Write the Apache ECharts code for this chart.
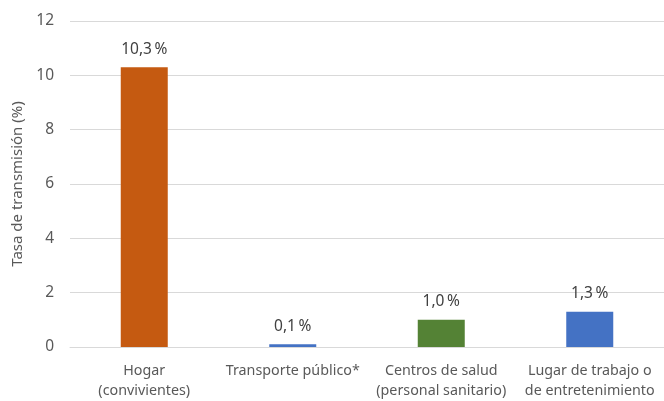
<!DOCTYPE html>
<html><head><meta charset="utf-8">
<script src="https://cdn.jsdelivr.net/npm/echarts@6/dist/echarts.min.js"></script>
<style>html,body{margin:0;padding:0;background:#fff}#c{width:664px;height:401px}</style>
</head><body><div id="c"></div>
<script>
const categories = ['Hogar\n(convivientes)', 'Transporte público*', 'Centros de salud\n(personal sanitario)', 'Lugar de trabajo o\nde entretenimiento'];
const values = [10.3, 0.1, 1.0, 1.3];
const colors = ['#C55A11', '#4472C4', '#548235', '#4472C4'];
const yTicks = [0, 2, 4, 6, 8, 10, 12];
const yTitle = 'Tasa de transmisión (%)';
const FONT = 'Noto Sans';
const chart = echarts.init(document.getElementById('c'));
chart.setOption({
  animation: false,
  grid: { left: 70, right: 0, top: 21, bottom: 54 },
  xAxis: {
    type: 'category', data: categories,
    axisLine: { lineStyle: { color: '#D9D9D9' } },
    axisTick: { show: false },
    axisLabel: { color: '#595959', fontFamily: FONT, fontSize: 14.3, lineHeight: 20, margin: 14, interval: 0 }
  },
  yAxis: {
    type: 'value', min: yTicks[0], max: yTicks[yTicks.length - 1], interval: 2,
    name: yTitle, nameLocation: 'middle', nameGap: 44,
    nameTextStyle: { color: '#595959', fontFamily: FONT, fontSize: 15 },
    axisLine: { show: false }, axisTick: { show: false },
    axisLabel: { color: '#595959', fontFamily: FONT, fontSize: 15.5, margin: 16 },
    splitLine: { lineStyle: { color: '#D9D9D9' } }
  },
  series: [{
    type: 'bar', barWidth: 47,
    data: values.map((v, i) => ({ value: v, itemStyle: { color: colors[i] } })),
    label: { show: true, position: 'top', distance: 10, color: '#404040', fontFamily: FONT, fontSize: 15.5,
      formatter: p => p.value.toFixed(1).replace('.', ',') + '\u2009%' }
  }]
});
</script></body></html>
